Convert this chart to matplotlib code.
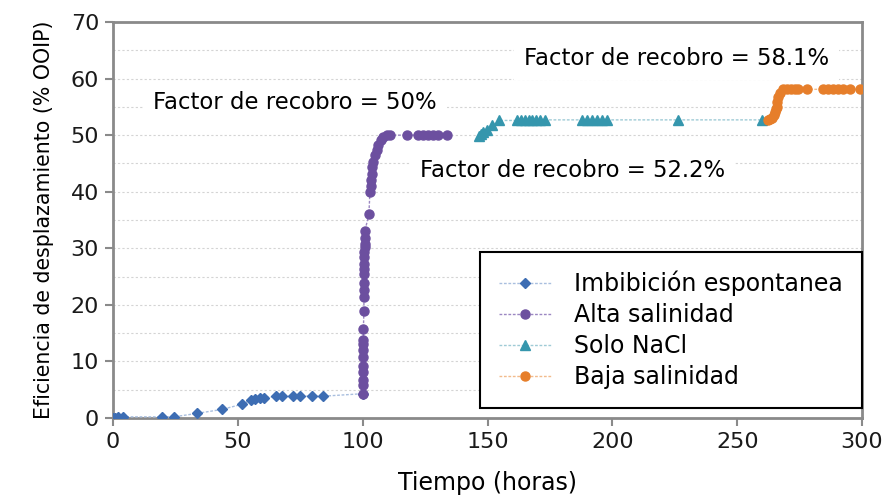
import numpy as np
import matplotlib
matplotlib.use("Agg")
import matplotlib.pyplot as plt
from matplotlib.ticker import MultipleLocator

plt.rcParams.update({'font.family': 'DejaVu Sans'})

# data (Tiempo en horas, eficiencia % OOIP)
imb_t = [0, 1, 2, 4, 19.5, 24.4, 33.5, 43.5, 51.5, 55.1, 56.9, 58.9, 60.6,
         65.3, 67.5, 72.2, 74.9, 79.6, 84.2, 100.3]
imb_y = [0, 0, 0.1, 0.2, 0.2, 0.2, 0.8, 1.5, 2.4, 3.1, 3.3, 3.5, 3.6,
         3.8, 3.85, 3.85, 3.85, 3.85, 3.85, 4.3]

alta_t = [100.2, 100.2, 100.3, 100.3, 100.3, 100.3, 100.3, 100.3, 100.3, 100.3,
          100.5, 100.5, 100.6, 100.6, 100.7, 100.7, 100.7, 100.7, 100.7, 100.8,
          100.8, 100.9, 100.9, 102.5, 102.9, 103.2, 103.2, 103.6, 103.8, 104.3,
          104.9, 105.6, 106.2, 107.2, 108.3, 109.6, 110.9, 117.6, 122.3, 124.3,
          126.3, 128.3, 130.3, 133.9]
alta_y = [4.2, 5.8, 6.8, 8.1, 9.2, 10.7, 12.0, 13.0, 13.8, 15.8,
          19.0, 21.3, 22.6, 23.9, 25.4, 26.4, 27.3, 28.5, 29.4, 30.2,
          30.8, 31.9, 33.1, 36.0, 40.0, 41.0, 42.0, 43.1, 44.4, 45.3,
          46.5, 47.3, 48.2, 49.1, 49.7, 50.0, 50.0, 50.0, 50.0, 50.0,
          50.0, 50.0, 50.0, 50.0]

nacl_t = [146.5, 147.5, 148.3, 149.7, 151.7, 154.7, 161.7, 163.5, 165.0, 166.5,
          168.0, 169.5, 171.0, 173.0, 188.0, 190.0, 192.0, 194.0, 196.0, 198.0,
          226.4, 259.8]
nacl_y = [49.9, 50.2, 50.5, 50.9, 51.8, 52.6, 52.6, 52.7, 52.7, 52.7,
          52.7, 52.7, 52.7, 52.7, 52.7, 52.7, 52.7, 52.7, 52.7, 52.7,
          52.7, 52.7]

baja_t = [262.5, 263.3, 264.0, 264.6, 265.1, 265.5, 265.8, 266.1, 266.4, 267.1,
          268.4, 270.0, 271.5, 273.0, 274.3, 277.8, 284.4, 286.5, 288.5, 290.5,
          292.5, 295.2, 299.2]
baja_y = [52.7, 52.8, 53.1, 53.6, 54.1, 54.6, 55.0, 55.8, 56.7, 57.5,
          58.1, 58.1, 58.1, 58.1, 58.1, 58.1, 58.1, 58.1, 58.1, 58.1,
          58.1, 58.1, 58.1]

fig = plt.figure(figsize=(8.91, 4.97), dpi=100)
ax = fig.add_axes([0.1268, 0.159, 0.8407, 0.7967])

ls = (0, (2, 1.2))
ax.plot(imb_t, imb_y, ls=ls, lw=1, color='#a9bfdf', marker='D', ms=5.5,
        mfc='#3d6db3', mec='#3d6db3', label='Imbibición espontanea', zorder=3)
ax.plot(alta_t, alta_y, ls=ls, lw=1, color='#9c88c2', marker='o', ms=6.5,
        mfc='#6c4f9f', mec='#6c4f9f', label='Alta salinidad', zorder=3)
ax.plot(nacl_t, nacl_y, ls=ls, lw=1, color='#9fcbd6', marker='^', ms=7,
        mfc='#3596ad', mec='#3596ad', label='Solo NaCl', zorder=3)
ax.plot(baja_t, baja_y, ls=ls, lw=1, color='#f2bb8c', marker='o', ms=6.5,
        mfc='#e67e2a', mec='#e67e2a', label='Baja salinidad', zorder=3)

ax.set_xlim(0, 300)
ax.set_ylim(0, 70)
ax.xaxis.set_major_locator(MultipleLocator(50))
ax.yaxis.set_major_locator(MultipleLocator(10))
ax.yaxis.set_minor_locator(MultipleLocator(5))
ax.set_axisbelow(True)
ax.grid(which='both', axis='y', color='#d4d4d4', ls=(0, (2, 2)), lw=0.8)
ax.tick_params(which='minor', length=0)
ax.tick_params(which='major', direction='out', length=6, width=1.5,
               color='#8a8a8a', labelsize=16, labelcolor='#1a1a1a', pad=4)
for s in ax.spines.values():
    s.set_color('#8a8a8a')
    s.set_linewidth(2)

ax.set_xlabel('Tiempo (horas)', fontsize=17, labelpad=14)
ax.set_ylabel('Eficiencia de desplazamiento (% OOIP)', fontsize=14.8, labelpad=12)

box = dict(boxstyle='square,pad=0.45', fc='white', ec='none')
ax.text(16, 55.7, 'Factor de recobro = 50%', fontsize=16.4, va='center',
        bbox=box, zorder=2.5)
ax.text(123, 43.8, 'Factor de recobro = 52.2%', fontsize=16.4, va='center',
        bbox=box, zorder=2.5)
ax.text(164.6, 63.6, 'Factor de recobro = 58.1%', fontsize=16.4, va='center',
        bbox=box, zorder=2.5)

leg = ax.legend(loc='lower right', bbox_to_anchor=(1.0, 0.025), borderaxespad=0,
                fontsize=17, handlelength=2.2, handletextpad=1.0,
                labelspacing=0.3, borderpad=0.8, fancybox=False,
                framealpha=1, edgecolor='black')
leg.get_frame().set_linewidth(1.5)

fig.savefig('out.png', dpi=100)
